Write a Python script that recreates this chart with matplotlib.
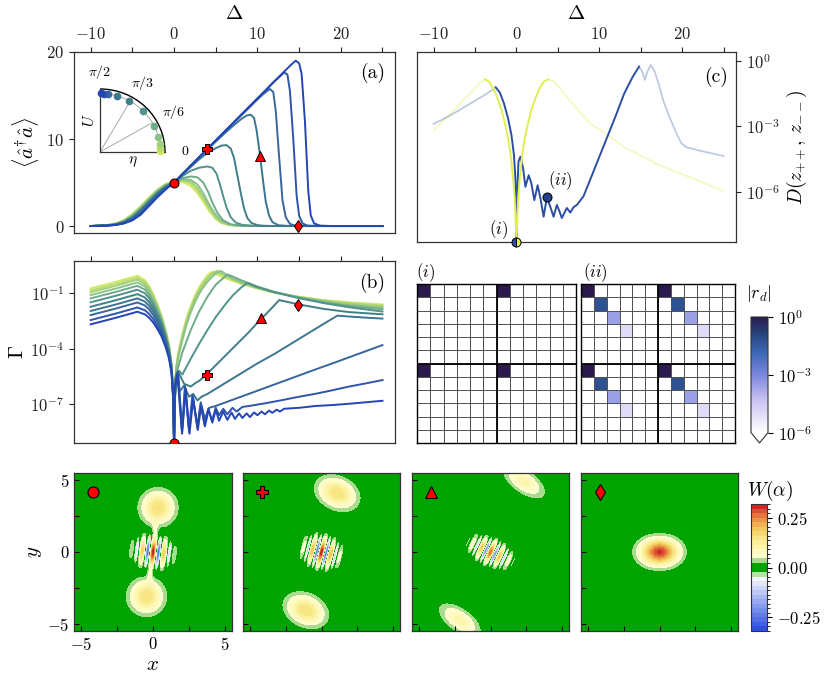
import numpy as np
import matplotlib
matplotlib.use("Agg")
import matplotlib.pyplot as plt
from matplotlib.colors import LinearSegmentedColormap, ListedColormap, BoundaryNorm, LogNorm
from matplotlib.ticker import FixedLocator, FuncFormatter, NullLocator
from matplotlib.patches import Arc

plt.rcParams['font.family'] = 'serif'
plt.rcParams['font.serif'] = ['cmr10']
plt.rcParams['mathtext.fontset'] = 'cm'
plt.rcParams['axes.formatter.use_mathtext'] = True
plt.rcParams['axes.linewidth'] = 0.9
plt.rcParams['axes.edgecolor'] = '#333333'

# ---------------- data ----------------
# line colours, from green (U small) to blue (U large)
curve_colors = ['#d2e860', '#b9dc6e', '#a3d07c', '#8dc386', '#6fab88', '#51928a',
                '#417f88', '#3b7590', '#36669c', '#2d55aa', '#2446b5']
# angles of the dots in the inset (degrees)
inset_angles = [1, 4, 8, 15, 26, 44, 61, 74, 82, 86, 89]

# (a) photon number, left branch on a common grid
pop_left_delta = [-10, -8, -7, -6, -5, -4, -3, -2, -1, 0]
pop_left = [
    [0, 0.12, 0.30, 0.70, 1.40, 2.30, 3.30, 4.20, 4.85, 5.10],
    [0, 0.11, 0.28, 0.66, 1.33, 2.22, 3.22, 4.14, 4.80, 5.08],
    [0, 0.10, 0.26, 0.62, 1.26, 2.14, 3.14, 4.08, 4.75, 5.06],
    [0, 0.10, 0.24, 0.58, 1.19, 2.06, 3.06, 4.00, 4.70, 5.04],
    [0, 0.09, 0.22, 0.54, 1.12, 1.98, 2.98, 3.92, 4.65, 5.02],
    [0, 0.08, 0.20, 0.50, 1.05, 1.90, 2.90, 3.85, 4.60, 5.00],
    [0, 0.07, 0.18, 0.45, 0.97, 1.80, 2.80, 3.75, 4.50, 5.00],
    [0, 0.07, 0.16, 0.41, 0.88, 1.68, 2.68, 3.64, 4.44, 5.00],
    [0, 0.06, 0.15, 0.37, 0.80, 1.56, 2.56, 3.54, 4.37, 5.00],
    [0, 0.05, 0.13, 0.33, 0.72, 1.44, 2.44, 3.44, 4.30, 5.00],
    [0, 0.05, 0.12, 0.30, 0.65, 1.30, 2.30, 3.30, 4.20, 5.00],
]
# (a) right branch, one grid per curve
pop_right_delta = [
    [0.5, 1, 2, 2.8, 3.5, 4.2, 4.9, 5.6, 6.5, 7.5, 10, 25],
    [0.5, 1, 2, 2.8, 3.5, 4.2, 4.9, 5.6, 6.5, 7.5, 10, 25],
    [0.5, 1, 2, 2.8, 3.5, 4.2, 4.9, 5.6, 6.5, 7.5, 10, 25],
    [0.5, 1.2, 2, 2.8, 3.5, 4.2, 4.9, 5.6, 6.5, 7.5, 10, 25],
    [0.5, 1, 2, 2.8, 3.5, 4.1, 4.6, 5.2, 5.9, 6.8, 8, 10, 25],
    [0.5, 1, 2, 3, 4, 4.6, 5.1, 5.5, 5.9, 6.3, 6.8, 7.4, 8.2, 9.5, 11, 25],
    [0.5, 1, 2, 3, 4, 5, 5.7, 6.3, 6.8, 7.2, 7.6, 8.0, 8.4, 8.8, 9.3, 10, 11, 13, 25],
    [0.5, 1, 2, 3, 4, 5, 6, 7, 8, 8.7, 9.2, 9.6, 9.9, 10.3, 10.7, 11.0, 11.4, 11.8,
     12.5, 13.5, 15, 25],
    [0.5, 1, 2, 3, 4, 5, 6, 7, 8, 9, 10, 10.8, 11.5, 11.9, 12.2, 12.6, 13.0, 13.4,
     13.9, 14.5, 16, 25],
    [0.5, 1, 2, 3, 4, 5, 6, 7, 8, 9, 10, 11, 12, 12.6, 13.2, 13.6, 13.9, 14.3, 14.7,
     15.0, 15.4, 16, 18, 25],
    [0.5, 1, 2, 3, 4, 5, 6, 7, 8, 9, 10, 11, 12, 13, 14, 14.6, 15.0, 15.3, 15.7,
     16.1, 16.4, 16.8, 17.5, 19, 25],
]
pop_right = [
    [5.15, 5.10, 4.60, 3.80, 2.80, 1.75, 0.90, 0.38, 0.12, 0.03, 0, 0],
    [5.20, 5.20, 4.90, 4.10, 3.10, 2.00, 1.05, 0.45, 0.15, 0.04, 0, 0],
    [5.20, 5.30, 5.10, 4.40, 3.40, 2.20, 1.20, 0.55, 0.18, 0.05, 0, 0],
    [5.20, 5.40, 5.30, 4.80, 3.80, 2.50, 1.40, 0.65, 0.22, 0.06, 0, 0],
    [5.30, 5.50, 5.70, 5.60, 5.00, 3.90, 2.70, 1.50, 0.65, 0.20, 0.05, 0, 0],
    [5.35, 5.75, 6.35, 6.70, 6.85, 6.70, 6.00, 4.80, 3.40, 2.10, 1.00, 0.40, 0.12,
     0.02, 0, 0],
    [5.42, 5.88, 6.80, 7.65, 8.40, 8.95, 9.25, 9.30, 8.90, 7.80, 5.80, 3.80, 2.00,
     0.90, 0.35, 0.10, 0.02, 0, 0],
    [5.45, 5.93, 6.90, 7.85, 8.80, 9.70, 10.60, 11.45, 12.25, 12.70, 12.80, 12.40,
     11.00, 8.20, 5.00, 2.80, 1.20, 0.45, 0.10, 0.02, 0, 0],
    [5.45, 5.95, 6.93, 7.90, 8.86, 9.80, 10.78, 11.72, 12.66, 13.60, 14.55, 15.25,
     15.75, 15.40, 13.20, 8.00, 3.00, 1.00, 0.25, 0.05, 0, 0],
    [5.47, 5.96, 6.93, 7.90, 8.87, 9.83, 10.80, 11.76, 12.73, 13.70, 14.66, 15.62,
     16.60, 17.10, 17.65, 17.40, 15.50, 10.00, 3.50, 1.20, 0.30, 0.05, 0, 0],
    [5.47, 5.96, 6.93, 7.90, 8.87, 9.83, 10.80, 11.76, 12.73, 13.70, 14.66, 15.62,
     16.60, 17.55, 18.50, 19.00, 18.70, 17.50, 12.00, 4.00, 1.20, 0.30, 0.05, 0, 0],
]

# (b) log10 of Gamma, left branch on a common grid
gam_left_delta = [-10, -7, -4.4, -3.5, -3, -2.5, -2, -1.5, -1, -0.6, -0.3, -0.1, 0]
gam_left = [
    [-0.75, -0.40, -0.07, -0.30, -0.62, -1.05, -1.60, -2.20, -3.00, -3.80, -4.80, -6.30, -9.1],
    [-0.86, -0.51, -0.18, -0.40, -0.71, -1.13, -1.67, -2.26, -3.05, -3.84, -4.83, -6.33, -9.1],
    [-0.96, -0.61, -0.28, -0.50, -0.80, -1.21, -1.74, -2.32, -3.10, -3.88, -4.86, -6.36, -9.1],
    [-1.11, -0.76, -0.43, -0.64, -0.93, -1.33, -1.84, -2.40, -3.17, -3.93, -4.90, -6.40, -9.1],
    [-1.29, -0.94, -0.61, -0.81, -1.09, -1.47, -1.96, -2.50, -3.25, -4.00, -4.95, -6.45, -9.1],
    [-1.50, -1.15, -0.82, -1.01, -1.27, -1.63, -2.10, -2.62, -3.35, -4.08, -5.00, -6.50, -9.1],
    [-1.74, -1.39, -1.06, -1.24, -1.48, -1.82, -2.26, -2.76, -3.46, -4.17, -5.07, -6.55, -9.1],
    [-1.97, -1.62, -1.29, -1.46, -1.68, -2.00, -2.42, -2.90, -3.57, -4.26, -5.14, -6.60, -9.1],
    [-2.19, -1.84, -1.51, -1.67, -1.88, -2.18, -2.58, -3.04, -3.68, -4.35, -5.20, -6.65, -9.1],
    [-2.46, -2.11, -1.78, -1.93, -2.12, -2.40, -2.77, -3.20, -3.81, -4.45, -5.28, -6.70, -9.1],
    [-2.69, -2.34, -2.01, -2.15, -2.33, -2.59, -2.94, -3.35, -3.93, -4.55, -5.35, -6.75, -9.1],
]
gam_right_delta = [
    [0.1, 0.25, 0.5, 1, 1.5, 2, 2.5, 3, 3.5, 4, 4.4, 5, 6, 7, 8, 10, 12, 15, 18, 21, 25],
    [0.1, 0.25, 0.5, 1, 1.5, 2, 2.5, 3, 3.5, 4, 4.8, 5.5, 6, 7, 8, 10, 12, 15, 18, 21, 25],
    [0.1, 0.25, 0.5, 1, 1.5, 2, 2.5, 3, 3.5, 4, 4.5, 5.2, 6, 7, 8, 10, 12, 15, 18, 21, 25],
    [0.1, 0.25, 0.5, 1, 1.5, 2, 2.5, 3, 3.5, 4, 4.5, 5, 5.6, 6.2, 7, 8, 10, 12, 15, 18,
     21, 25],
    [0.1, 0.3, 0.5, 1, 2, 3, 4, 5, 6.4, 7, 8, 10, 12, 15, 18, 21, 25],
    [0.1, 0.3, 0.6, 1, 2, 3, 4, 5, 6, 7, 8, 8.8, 10, 12, 15, 18, 21, 25],
    [0.1, 0.3, 0.6, 1.2, 2, 2.6, 3, 4, 5, 6, 7, 8, 9, 10, 11, 12, 12.6, 14, 15, 18, 21, 25],
    [0.1, 0.3, 0.7, 1.2, 1.8, 2.3, 2.8, 3.3, 4, 6, 8, 10, 12, 14, 16, 18, 19.6, 21, 23, 25],
    [0.15, 0.5, 0.96, 1.3, 1.8, 2.2, 2.8, 3.2, 3.7, 4.2, 5, 7, 9, 11, 13, 15, 17, 19,
     21, 23, 25],
    [0.12, 0.45, 0.96, 1.35, 1.8, 2.25, 2.8, 3.2, 3.65, 4.1, 4.55, 5, 5.4, 5.9, 6.4,
     7, 7.5, 8.2, 9, 11, 13, 15, 17, 19, 21, 23, 25],
    [0.1, 0.4, 0.96, 1.4, 1.85, 2.3, 2.85, 3.25, 3.7, 4.15, 4.6, 5, 5.4, 5.9, 6.4, 6.9,
     7.3, 7.8, 8.2, 8.7, 9.1, 9.6, 10, 10.5, 10.9, 11.4, 11.8, 12.3, 12.7, 13.2, 15,
     17, 19, 21, 23, 25],
]
gam_right = [
    [-6.3, -5.0, -4.2, -3.2, -2.35, -1.7, -1.15, -0.7, -0.35, -0.05, 0.12, 0.02, -0.17,
     -0.34, -0.5, -0.76, -0.98, -1.2, -1.38, -1.5, -1.62],
    [-6.4, -5.05, -4.3, -3.3, -2.45, -1.8, -1.25, -0.8, -0.45, -0.15, 0.17, 0.03, -0.07,
     -0.28, -0.46, -0.74, -0.97, -1.21, -1.4, -1.54, -1.67],
    [-6.5, -5.1, -4.4, -3.4, -2.55, -1.9, -1.35, -0.9, -0.55, -0.25, 0.0, 0.2, -0.03,
     -0.24, -0.42, -0.72, -0.96, -1.22, -1.43, -1.59, -1.73],
    [-6.6, -5.15, -4.5, -3.55, -2.7, -2.05, -1.5, -1.05, -0.7, -0.4, -0.15, 0.05, 0.2,
     0.02, -0.2, -0.4, -0.71, -0.96, -1.24, -1.47, -1.64, -1.8],
    [-6.6, -5.3, -5.0, -4.2, -3.0, -2.0, -1.2, -0.55, 0.0, -0.1, -0.3, -0.65, -0.93,
     -1.25, -1.5, -1.7, -1.88],
    [-6.6, -5.3, -5.2, -5.4, -4.55, -3.75, -3.0, -2.3, -1.7, -1.15, -0.72, -0.45, -0.68,
     -0.96, -1.28, -1.55, -1.77, -2.0],
    [-6.7, -5.4, -5.35, -5.9, -6.05, -5.85, -5.75, -5.35, -4.9, -4.45, -4.0, -3.55,
     -3.1, -2.6, -2.15, -1.68, -1.38, -1.52, -1.62, -1.86, -2.03, -2.15],
    [-6.8, -5.5, -6.3, -6.0, -6.6, -6.45, -6.8, -6.6, -6.45, -5.9, -5.35, -4.8, -4.3,
     -3.75, -3.2, -2.65, -2.22, -2.27, -2.33, -2.38],
    [-5.6, -5.25, -8.4, -6.0, -8.4, -6.5, -8.2, -6.9, -7.8, -7.2, -7.1, -6.77, -6.44,
     -6.11, -5.78, -5.45, -5.12, -4.8, -4.47, -4.14, -3.81],
    [-6.0, -5.3, -8.5, -6.1, -8.5, -6.6, -8.3, -7.0, -8.1, -7.25, -7.9, -7.2, -7.6,
     -7.25, -7.55, -7.2, -7.4, -7.15, -7.1, -6.95, -6.78, -6.6, -6.44, -6.25, -6.05,
     -5.88, -5.7],
    [-6.2, -5.4, -8.6, -6.2, -8.6, -6.7, -8.4, -7.1, -8.2, -7.3, -8.0, -7.3, -7.9,
     -7.4, -7.85, -7.45, -7.8, -7.5, -7.75, -7.5, -7.7, -7.45, -7.6, -7.4, -7.55, -7.35,
     -7.47, -7.3, -7.4, -7.25, -7.2, -7.1, -7.05, -6.98, -6.9, -6.82],
]

# markers: (Delta, <n>) in (a) and (Delta, log10 Gamma) in (b)
mark_styles = ['o', 'P', '^', 'd']
mark_a_delta = [0, 4.0, 10.3, 14.9]
mark_a_n = [5.0, 8.9, 8.1, 0.0]
mark_b_delta = [0, 3.9, 10.4, 14.9]
mark_b_log = [-9.1, -5.43, -2.37, -1.62]

# (c) log10 of trace distance
yel_delta = [-3.8, -3.3, -2.8, -2.3, -1.8, -1.4, -1.0, -0.7, -0.4, -0.2, 0,
             0.2, 0.4, 0.7, 1.0, 1.4, 1.8, 2.3, 2.8, 3.3, 3.8]
yel_log = [-0.84, -0.95, -1.25, -1.7, -2.25, -2.85, -3.55, -4.3, -5.4, -6.3, -8.3,
           -6.3, -5.4, -4.3, -3.55, -2.85, -2.25, -1.7, -1.25, -0.95, -0.84]
yel_faint_left_delta = [-10, -9, -8, -7, -6, -5, -4.4, -3.8]
yel_faint_left_log = [-3.2, -2.8, -2.45, -2.05, -1.65, -1.25, -1.0, -0.84]
yel_faint_right_delta = [3.8, 4.4, 5, 6, 7.3, 9, 11.3, 13, 15.3, 17, 19.3, 22, 25]
yel_faint_right_log = [-0.84, -0.92, -1.15, -1.6, -2.2, -2.9, -3.47, -3.95, -4.39,
                       -4.75, -5.08, -5.5, -5.96]
blue_delta = [-2.5, -2.0, -1.5, -1.0, -0.6, -0.3, -0.12, 0, 0.05, 0.25, 0.48, 0.8,
              1.08, 1.48, 1.8, 2.16, 2.56, 2.9, 3.28, 3.68, 4.1, 4.48, 4.88, 5.2, 5.48,
              6.08, 6.5, 6.9, 7.3, 8.1, 9, 10, 11, 12, 13, 14, 14.8]
blue_log = [-1.21, -1.45, -1.95, -2.65, -3.4, -4.3, -5.4, -8.3, -6.5, -4.6, -4.39, -4.9,
            -5.77, -5.24, -5.6, -6.38, -5.7, -6.3, -7.14, -6.25, -6.7, -7.14, -6.6, -6.9,
            -7.2, -6.74, -6.95, -6.7, -6.6, -6.2, -5.35, -4.4, -3.45, -2.5, -1.5, -0.75,
            -0.26]
blue_faint_left_delta = [-10, -8, -6, -4, -3, -2.5]
blue_faint_left_log = [-2.89, -2.5, -2.05, -1.6, -1.35, -1.21]
blue_faint_right_delta = [14.8, 15.2, 15.5, 15.8, 16.2, 16.7, 17.2, 17.7, 18.5, 19.3,
                          19.9, 20.5, 22, 25]
blue_faint_right_log = [-0.26, -0.5, -0.87, -0.5, -0.18, -0.5, -1.1, -1.79, -2.6,
                        -3.31, -3.77, -3.95, -4.1, -4.36]

# (i), (ii): diagonal of each 6x6 block of |r_d|
rd_i_diag = [1.0, 0, 0, 0, 0, 0]
rd_ii_diag = [1.0, 6e-2, 3e-4, 1e-5, 0, 0]

# Wigner functions: Gaussian lobes and interference fringes for the four markers
blob_x = [[0.35, -0.45, 0.15, -0.22], [1.1, -1.1], [2.35, -2.15], [0.0]]
blob_y = [[3.1, -3.1, 1.75, -1.75], [4.1, -4.05], [4.9, -4.75], [0.0]]
blob_sa = [[0.71, 0.71, 0.12, 0.12], [0.85, 0.85], [0.96, 0.96], [0.83]]
blob_sb = [[0.71, 0.71, 0.5, 0.5], [0.6, 0.6], [0.44, 0.44], [0.57]]
blob_ang = [[0, 0, 0, 0], [-25, -25], [-35, -35], [0]]
blob_amp = [[0.16, 0.16, 0.038, 0.038], [0.16, 0.16], [0.10, 0.10], [0.30]]
fringe_amp = [0.31, 0.31, 0.26, 0.0]
fringe_k = [8.2, 9.5, 9.0, 0.0]
fringe_ang = [-7.4, -15.1, -25.0, 0.0]
fringe_sk = [0.74, 0.72, 0.85, 1.0]
fringe_ss = [0.58, 0.58, 0.47, 1.0]
w_lim = 0.32

# ---------------- figure ----------------
fig = plt.figure(figsize=(8.3, 6.84), dpi=100)


def fpos(x0, y0, x1, y1):
    return [x0 / 830, 1 - y1 / 684, (x1 - x0) / 830, (y1 - y0) / 684]


def delta_fmt(v, pos):
    return r'$%d$' % v if abs(v) % 10 < 1e-6 else ''


tick_kw = dict(direction='out', length=3.5, width=0.8, labelsize=12, colors='#222222')

# (a)
ax_a = fig.add_axes(fpos(74, 52, 395, 233))
for i in range(len(pop_left)):
    d = pop_left_delta + pop_right_delta[i]
    n = pop_left[i] + pop_right[i]
    ax_a.plot(d, n, color=curve_colors[i], lw=1.4, zorder=2 + i * 0.01)
for m, x, y in zip(mark_styles, mark_a_delta, mark_a_n):
    ax_a.plot(x, y, m, mfc='red', mec='k', mew=0.7, ms=6.5, zorder=5, clip_on=False)
ax_a.set_xlim(-12, 26.5)
ax_a.set_ylim(-0.8, 20)
ax_a.xaxis.tick_top()
ax_a.xaxis.set_label_position('top')
ax_a.xaxis.set_major_locator(FixedLocator(range(-10, 30, 5)))
ax_a.xaxis.set_major_formatter(FuncFormatter(delta_fmt))
ax_a.yaxis.set_major_locator(FixedLocator([0, 10, 20]))
ax_a.tick_params(**tick_kw)
ax_a.set_xlabel(r'$\Delta$', fontsize=15, labelpad=5)
ax_a.set_ylabel(r'$\langle \hat{a}^{\dagger}\hat{a} \rangle$', fontsize=15, labelpad=4)
ax_a.text(0.97, 0.885, '(a)', transform=ax_a.transAxes, ha='right', va='center',
          fontsize=14)

# inset of (a)
ax_in = fig.add_axes(fpos(100, 89, 165, 152))
ax_in.set_xlim(0, 1.0)
ax_in.set_ylim(0, 1.0)
for s in ['top', 'right']:
    ax_in.spines[s].set_visible(False)
ax_in.set_xticks([])
ax_in.set_yticks([])
ax_in.add_patch(Arc((0, 0), 2.0, 2.0, theta1=0, theta2=90, color='k', lw=1.0,
                    clip_on=False))
ax_in.add_patch(Arc((0, 0), 1.86, 1.86, theta1=0, theta2=90, color='#aaaaaa', lw=0.7))
for a in [30, 60]:
    ax_in.plot([0, 0.93 * np.cos(np.radians(a))], [0, 0.93 * np.sin(np.radians(a))],
               color='#aaaaaa', lw=0.7)
for a, c in zip(inset_angles, curve_colors):
    ax_in.plot(0.93 * np.cos(np.radians(a)), 0.93 * np.sin(np.radians(a)), 'o',
               color=c, ms=4.5, clip_on=False, zorder=3)
for a, lab in zip([0, 30, 60, 90], ['0', r'$\pi/6$', r'$\pi/3$', r'$\pi/2$']):
    ax_in.text(1.3 * np.cos(np.radians(a)), 1.27 * np.sin(np.radians(a)), lab,
               ha='center', va='center', fontsize=10)
ax_in.set_ylabel(r'$U$', fontsize=11, labelpad=2)
ax_in.set_xlabel(r'$\eta$', fontsize=11, labelpad=2)

# (b)
ax_b = fig.add_axes(fpos(74, 261, 395, 443))
for i in range(len(gam_left)):
    d = gam_left_delta + gam_right_delta[i]
    g = 10.0 ** np.array(gam_left[i] + gam_right[i])
    ax_b.plot(d, g, color=curve_colors[i], lw=1.4, zorder=2 + i * 0.01)
for m, x, y in zip(mark_styles, mark_b_delta, mark_b_log):
    ax_b.plot(x, 10.0 ** y, m, mfc='red', mec='k', mew=0.7, ms=6.5, zorder=5)
ax_b.set_yscale('log')
ax_b.set_xlim(-12, 26.5)
ax_b.set_ylim(10 ** -9.1, 10 ** 0.73)
ax_b.xaxis.tick_top()
ax_b.xaxis.set_major_locator(FixedLocator(range(-10, 30, 5)))
ax_b.yaxis.set_major_locator(FixedLocator([1e-1, 1e-4, 1e-7]))
ax_b.yaxis.set_minor_locator(NullLocator())
ax_b.tick_params(**tick_kw)
ax_b.tick_params(labeltop=False)
ax_b.set_ylabel(r'$\Gamma$', fontsize=15, labelpad=2)
ax_b.text(0.97, 0.88, '(b)', transform=ax_b.transAxes, ha='right', va='center',
          fontsize=14)

# (c)
ax_c = fig.add_axes(fpos(417, 52, 736, 242))
c_yel = '#dff04e'
c_blue = '#2b4fa5'
ax_c.plot(yel_faint_left_delta, 10.0 ** np.array(yel_faint_left_log), color=c_yel,
          lw=1.3, alpha=0.35)
ax_c.plot(yel_faint_right_delta, 10.0 ** np.array(yel_faint_right_log), color=c_yel,
          lw=1.3, alpha=0.35)
ax_c.plot(blue_faint_left_delta, 10.0 ** np.array(blue_faint_left_log), color=c_blue,
          lw=1.3, alpha=0.3)
ax_c.plot(blue_faint_right_delta, 10.0 ** np.array(blue_faint_right_log), color=c_blue,
          lw=1.3, alpha=0.3)
ax_c.plot(blue_delta, 10.0 ** np.array(blue_log), color=c_blue, lw=1.4)
ax_c.plot(yel_delta, 10.0 ** np.array(yel_log), color=c_yel, lw=1.4)
ax_c.plot(0, 10 ** -8.3, 'o', mfc=c_blue, mfcalt=c_yel, fillstyle='left', mec='k',
          mew=0.7, ms=6.5, clip_on=False, zorder=5)
ax_c.plot(3.68, 10 ** -6.25, 'o', mfc='#24408a', mec='k', mew=0.7, ms=6.5, zorder=5)
ax_c.text(-2.1, 10 ** -7.75, r'$(i)$', ha='center', va='center', fontsize=12)
ax_c.text(5.3, 10 ** -5.5, r'$(ii)$', ha='center', va='center', fontsize=12)
ax_c.set_yscale('log')
ax_c.set_xlim(-12, 26.5)
ax_c.set_ylim(10 ** -8.3, 10 ** 0.41)
ax_c.xaxis.tick_top()
ax_c.xaxis.set_label_position('top')
ax_c.yaxis.tick_right()
ax_c.yaxis.set_label_position('right')
ax_c.xaxis.set_major_locator(FixedLocator(range(-10, 30, 5)))
ax_c.xaxis.set_major_formatter(FuncFormatter(delta_fmt))
ax_c.yaxis.set_major_locator(FixedLocator([1, 1e-3, 1e-6]))
ax_c.yaxis.set_minor_locator(NullLocator())
ax_c.tick_params(**tick_kw)
ax_c.set_xlabel(r'$\Delta$', fontsize=15, labelpad=5)
ax_c.set_ylabel(r'$D(z_{++},\,z_{--})$', fontsize=14, rotation=90, labelpad=4)
ax_c.text(0.975, 0.87, '(c)', transform=ax_c.transAxes, ha='right', va='center',
          fontsize=14)

# (i), (ii) matrices
rd_cmap = LinearSegmentedColormap.from_list(
    'rd', [(0.0, '#ffffff'), (0.3, '#c4bef0'), (0.5, '#7a86dc'), (0.7, '#3a66b2'),
           (0.85, '#27457e'), (1.0, '#2a1a4e')])
rd_cmap.set_under('white')
rd_cmap.set_bad('white')
rd_norm = LogNorm(1e-6, 1)


def block_matrix(diag):
    block = np.diag(np.array(diag, dtype=float))
    return np.block([[block, block], [block, block]])


for pos, diag, lab, lx in [((417, 284, 576, 443), rd_i_diag, r'$(i)$', 426),
                           ((581, 284, 735, 443), rd_ii_diag, r'$(ii)$', 595)]:
    ax_m = fig.add_axes(fpos(*pos))
    mat = np.ma.masked_less_equal(block_matrix(diag), 0)
    ax_m.pcolormesh(np.arange(13), np.arange(13), mat, cmap=rd_cmap, norm=rd_norm,
                    edgecolors='#555555', linewidth=0.5)
    ax_m.set_facecolor('white')
    for k in range(13):
        ax_m.axhline(k, color='#555555', lw=0.5)
        ax_m.axvline(k, color='#555555', lw=0.5)
    ax_m.axhline(6, color='k', lw=1.3)
    ax_m.axvline(6, color='k', lw=1.3)
    ax_m.set_xlim(0, 12)
    ax_m.set_ylim(12, 0)
    ax_m.set_xticks([])
    ax_m.set_yticks([])
    for s in ax_m.spines.values():
        s.set_color('k')
        s.set_linewidth(1.0)
    fig.text(lx / 830, 1 - 273 / 684, lab, ha='center', va='center', fontsize=12)

cax_r = fig.add_axes(fpos(751, 317, 768, 443))
sm = plt.cm.ScalarMappable(cmap=rd_cmap, norm=rd_norm)
cb_r = fig.colorbar(sm, cax=cax_r, extend='min', extendfrac=0.09)
cb_r.set_ticks([1, 1e-3, 1e-6])
cb_r.ax.yaxis.set_minor_locator(NullLocator())
cb_r.ax.tick_params(direction='out', length=3.5, width=0.8, labelsize=12)
cb_r.outline.set_linewidth(0.8)
fig.text(759 / 830, 1 - 293 / 684, r'$|r_d|$', ha='center', va='center', fontsize=13)

# Wigner panels
w_levels = np.linspace(-w_lim, w_lim, 29)
neg_cols = LinearSegmentedColormap.from_list('neg', ['#3050e0', '#8fa2ee', '#f3f5fd'])
pos_cols = LinearSegmentedColormap.from_list(
    'pos', [(0.0, '#fffdd0'), (0.2, '#fdf4a8'), (0.4, '#f7e37c'), (0.55, '#f1c85c'),
            (0.7, '#eea04a'), (0.85, '#e46a36'), (1.0, '#d0282a')])
w_colors = ([neg_cols(t) for t in np.linspace(0, 1, 12)] + ['#b5e3a5', '#00a400',
            '#00a400', '#a9dc8f'] + [pos_cols(t) for t in np.linspace(0, 1, 12)])
w_cmap = ListedColormap(w_colors)
w_norm = BoundaryNorm(w_levels, w_cmap.N)

grid = np.linspace(-5.5, 5.5, 400)
X, Y = np.meshgrid(grid, grid)
panel_px = [(74, 232), (243, 400), (412, 569), (581, 738)]
cs = None
for j in range(4):
    W = np.zeros_like(X)
    for bx, by, sa, sb, an, am in zip(blob_x[j], blob_y[j], blob_sa[j], blob_sb[j],
                                      blob_ang[j], blob_amp[j]):
        t = np.radians(an)
        u = (X - bx) * np.cos(t) + (Y - by) * np.sin(t)
        v = -(X - bx) * np.sin(t) + (Y - by) * np.cos(t)
        W += am * np.exp(-0.5 * (u ** 2 / sa ** 2 + v ** 2 / sb ** 2))
    t = np.radians(fringe_ang[j])
    p = X * np.cos(t) + Y * np.sin(t)
    q = -X * np.sin(t) + Y * np.cos(t)
    W += fringe_amp[j] * np.exp(-0.5 * (p ** 2 / fringe_sk[j] ** 2 +
                                        q ** 2 / fringe_ss[j] ** 2)) * np.cos(fringe_k[j] * p)
    W = np.clip(W, -w_lim + 1e-4, w_lim - 1e-4)
    x0, x1 = panel_px[j]
    ax_w = fig.add_axes(fpos(x0, 473, x1, 631))
    cs = ax_w.contourf(X, Y, W, levels=w_levels, cmap=w_cmap, norm=w_norm)
    ax_w.plot(-4.15, 4.15, mark_styles[j], mfc='red', mec='k', mew=0.8, ms=8, zorder=5)
    ax_w.set_xlim(-5.5, 5.5)
    ax_w.set_ylim(-5.5, 5.5)
    ax_w.set_xticks([-5, -2.5, 0, 2.5, 5])
    ax_w.set_yticks([-5, -2.5, 0, 2.5, 5])
    ax_w.tick_params(direction='in', length=3.5, width=0.8, labelsize=12)
    if j == 0:
        ax_w.xaxis.set_major_formatter(FuncFormatter(
            lambda v, pos: r'$%d$' % v if abs(v) % 5 < 1e-6 else ''))
        ax_w.yaxis.set_major_formatter(FuncFormatter(
            lambda v, pos: r'$%d$' % v if abs(v) % 5 < 1e-6 else ''))
        ax_w.set_xlabel(r'$x$', fontsize=15, labelpad=2)
        ax_w.set_ylabel(r'$y$', fontsize=15, labelpad=2)
    else:
        ax_w.set_xticklabels([])
        ax_w.set_yticklabels([])

cax_w = fig.add_axes(fpos(751, 504, 767, 631))
cb_w = fig.colorbar(cs, cax=cax_w, ticks=[-0.25, 0.0, 0.25])
cb_w.ax.yaxis.set_major_formatter(FuncFormatter(lambda v, pos: r'$%.2f$' % v))
cb_w.ax.tick_params(direction='out', length=3.5, width=0.8, labelsize=12)
cb_w.outline.set_linewidth(0.8)
fig.text(770 / 830, 1 - 491 / 684, r'$W(\alpha)$', ha='center', va='center',
         fontsize=14)

fig.savefig('out.png', dpi=100)
